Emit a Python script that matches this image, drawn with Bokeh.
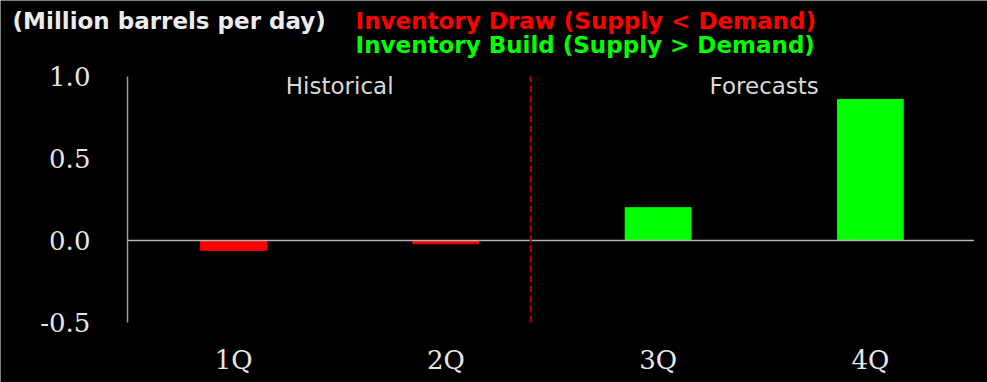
from bokeh.plotting import figure
from bokeh.models import Label, FixedTicker, NumeralTickFormatter, ColumnDataSource, Range1d
from bokeh.embed import file_html
from bokeh.resources import INLINE

quarters = ["1Q", "2Q", "3Q", "4Q"]
balance = [-0.06, -0.02, 0.20, 0.86]
y_ticks = [-0.5, 0.0, 0.5, 1.0]
unit_text = "(Million barrels per day)"
draw_text = "Inventory Draw (Supply < Demand)"
build_text = "Inventory Build (Supply > Demand)"
hist_text = "Historical"
fcst_text = "Forecasts"

RED = "#ff0000"
GREEN = "#00ff00"

# category slots: slot i spans [i, i+1], bar at its middle
slot_mid = [i + 0.5 for i in range(len(quarters))]
colors = [RED if v < 0 else GREEN for v in balance]
src = ColumnDataSource(dict(x=slot_mid, v=balance, c=colors))

W, H = 987, 382
# frame fills the whole canvas; axes are drawn at fixed data locations inside it
x_range = Range1d(-0.598, len(quarters) + 0.052)
y_range = Range1d(-0.866, 1.4634)

p = figure(width=W, height=H, x_range=x_range, y_range=y_range,
           output_backend="svg", toolbar_location=None,
           background_fill_color="black", border_fill_color="black",
           min_border_left=0, min_border_right=0, min_border_top=0, min_border_bottom=0)
p.outline_line_color = None
p.xgrid.visible = False
p.ygrid.visible = False

p.vbar(x="x", top="v", bottom=0, width=0.31, color="c", source=src)

# zero baseline across the category slots
p.segment(x0=[0], x1=[len(quarters) - 0.012], y0=[0], y1=[0], line_color="#b4b4b4", line_width=1.5)
# historical / forecast divider
p.segment(x0=[1.9], x1=[1.9], y0=[y_ticks[0]], y1=[y_ticks[-1]], line_color="#c00000",
          line_width=2, line_dash="7 3")

yax = p.yaxis[0]
yax.fixed_location = 0
yax.bounds = (y_ticks[0], y_ticks[-1])
yax.ticker = FixedTicker(ticks=y_ticks)
yax.formatter = NumeralTickFormatter(format="0.0")
yax.axis_line_color = "#9a9a9a"
yax.axis_line_width = 1.5
yax.major_tick_line_color = None
yax.minor_tick_line_color = None
yax.major_label_text_color = "#e6e6e6"
yax.major_label_text_font = "DejaVu Serif"
yax.major_label_text_font_size = "26px"
yax.major_label_standoff = 31

xax = p.xaxis[0]
xax.fixed_location = y_ticks[0]
xax.ticker = FixedTicker(ticks=slot_mid)
xax.major_label_overrides = {m: q for m, q in zip(slot_mid, quarters)}
xax.axis_line_color = None
xax.major_tick_line_color = None
xax.minor_tick_line_color = None
xax.major_label_text_color = "#e6e6e6"
xax.major_label_text_font = "DejaVu Serif"
xax.major_label_text_font_size = "26px"
xax.major_label_standoff = 17

p.add_layout(Label(x=1.0, y=0.939, text=hist_text, text_align="center", text_baseline="middle",
                   text_color="#d9d9d9", text_font="DejaVu Sans", text_font_size="23px"))
p.add_layout(Label(x=3.0, y=0.939, text=fcst_text, text_align="center", text_baseline="middle",
                   text_color="#d9d9d9", text_font="DejaVu Sans", text_font_size="23px"))

p.add_layout(Label(x=-0.541, y=1.341, text=unit_text,
                   text_color="#ececec", text_font="DejaVu Sans", text_font_style="bold",
                   text_font_size="23px", text_baseline="middle"))
p.add_layout(Label(x=1.075, y=1.341, text=draw_text,
                   text_color=RED, text_font="DejaVu Sans", text_font_style="bold",
                   text_font_size="23px", text_baseline="middle"))
p.add_layout(Label(x=1.075, y=1.195, text=build_text,
                   text_color=GREEN, text_font="DejaVu Sans", text_font_style="bold",
                   text_font_size="23px", text_baseline="middle"))

open("out.html", "w").write(file_html(p, INLINE))
